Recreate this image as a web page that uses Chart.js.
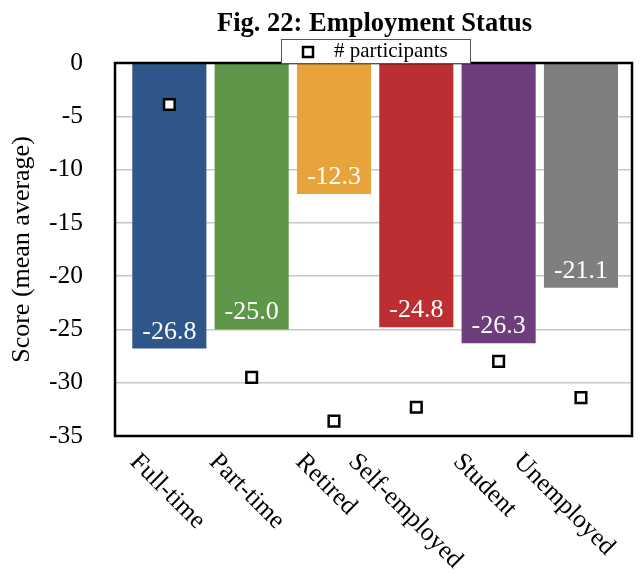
<!DOCTYPE html>
<html>
<head>
<meta charset="utf-8">
<title>Fig. 22: Employment Status</title>
<script src="https://cdn.jsdelivr.net/npm/chart.js@4.4.1/dist/chart.umd.min.js"></script>
<style>
  html, body { margin: 0; padding: 0; background: #fff; }
  #wrap { width: 642px; height: 577px; }
</style>
</head>
<body>
<div id="wrap"><canvas id="c" width="642" height="577"></canvas></div>
<script>
// data
var categories = ["Full-time", "Part-time", "Retired", "Self-employed", "Student", "Unemployed"];
var scores = [-26.8, -25.0, -12.3, -24.8, -26.3, -21.1];
var participantMarks = [-3.9, -29.5, -33.6, -32.3, -28.0, -31.4];
var barColors = ["#2e5689", "#5e9749", "#e8a33d", "#bc2e31", "#6e3d7c", "#7f7f7f"];
var yTicks = [0, -5, -10, -15, -20, -25, -30, -35];

var serif = "'Liberation Serif', 'Times New Roman', serif";

var extras = {
  id: "extras",
  afterDatasetsDraw: function(chart) {
    var ctx = chart.ctx, ca = chart.chartArea;
    // value labels inside bars
    var meta = chart.getDatasetMeta(1);
    ctx.save();
    ctx.fillStyle = "#fff";
    ctx.font = "26px " + serif;
    ctx.textAlign = "center";
    ctx.textBaseline = "alphabetic";
    meta.data.forEach(function(bar, i) {
      ctx.fillText(scores[i].toFixed(1), bar.x, bar.y - 10);
    });
    ctx.restore();

    // frame
    ctx.save();
    ctx.strokeStyle = "#000";
    ctx.lineWidth = 2.5;
    ctx.strokeRect(ca.left, ca.top, ca.right - ca.left, ca.bottom - ca.top);
    ctx.restore();

    // category labels, rotated down to the right
    var xs = chart.scales.x;
    ctx.save();
    ctx.fillStyle = "#000";
    ctx.font = "25.5px " + serif;
    ctx.textAlign = "left";
    ctx.textBaseline = "top";
    categories.forEach(function(c, i) {
      var w = ctx.measureText(c).width;
      var px = xs.getPixelForValue(i) - w * 0.3536 + 7 - 3 * i;
      ctx.save();
      ctx.translate(px, ca.bottom + 13);
      ctx.rotate(Math.PI / 4);
      ctx.fillText(c, 0, 0);
      ctx.restore();
    });
    ctx.restore();

    // title
    var cx = (ca.left + ca.right) / 2;
    ctx.save();
    ctx.fillStyle = "#000";
    ctx.font = "bold 26.5px " + serif;
    ctx.textAlign = "center";
    ctx.textBaseline = "alphabetic";
    ctx.fillText("Fig. 22: Employment Status", cx + 1, 31);
    ctx.restore();

    // legend box
    ctx.save();
    var bx = 281, by = 39, bw = 189, bh = 24;
    ctx.fillStyle = "#fff";
    ctx.fillRect(bx, by, bw, bh);
    ctx.strokeStyle = "#555";
    ctx.lineWidth = 1;
    ctx.strokeRect(bx + 0.5, by + 0.5, bw, bh);
    ctx.fillStyle = "#fff";
    ctx.strokeStyle = "#000";
    ctx.lineWidth = 2.5;
    ctx.fillRect(303, 47, 10, 10);
    ctx.strokeRect(303, 47, 10, 10);
    ctx.fillStyle = "#000";
    ctx.font = "21px " + serif;
    ctx.textAlign = "left";
    ctx.textBaseline = "middle";
    ctx.fillText("# participants", 334, 51);
    ctx.restore();
  }
};

new Chart(document.getElementById("c"), {
  data: {
    datasets: [
      {
        type: "scatter",
        label: "# participants",
        order: 0,
        data: participantMarks.map(function(v, i) { return { x: i, y: v }; }),
        pointStyle: "rect",
        pointRadius: 7.5,
        pointHoverRadius: 7.5,
        backgroundColor: "#fff",
        borderColor: "#000",
        borderWidth: 2.5
      },
      {
        type: "bar",
        label: "Score",
        order: 1,
        data: scores.map(function(v, i) { return { x: i, y: v }; }),
        backgroundColor: barColors,
        borderWidth: 0,
        categoryPercentage: 1,
        barPercentage: 0.9
      }
    ]
  },
  options: {
    responsive: false,
    animation: false,
    layout: { padding: { top: 63, right: 4, left: 0, bottom: 0 } },
    plugins: {
      legend: { display: false },
      title: { display: false },
      tooltip: { enabled: false }
    },
    scales: {
      x: {
        type: "linear",
        offset: false,
        min: -0.66,
        max: 5.62,
        afterBuildTicks: function(s) { s.ticks = categories.map(function(c, i) { return { value: i }; }); },
        grid: { display: false },
        border: { display: false },
        ticks: { display: false },
        afterFit: function(s) { s.height = 141; }
      },
      y: {
        min: -35,
        max: 0,
        afterBuildTicks: function(s) { s.ticks = yTicks.map(function(v) { return { value: v }; }); },
        grid: { color: "#c8c8c8", lineWidth: 1.5, drawTicks: false },
        border: { display: false },
        ticks: {
          color: "#000",
          padding: 32,
          font: { family: serif, size: 25.5 }
        },
        title: {
          display: true,
          text: "Score (mean average)",
          color: "#000",
          font: { family: serif, size: 26 },
          padding: { top: 7, bottom: 0 }
        },
        afterFit: function(s) { s.width = 115; }
      }
    }
  },
  plugins: [extras]
});
</script>
</body>
</html>
